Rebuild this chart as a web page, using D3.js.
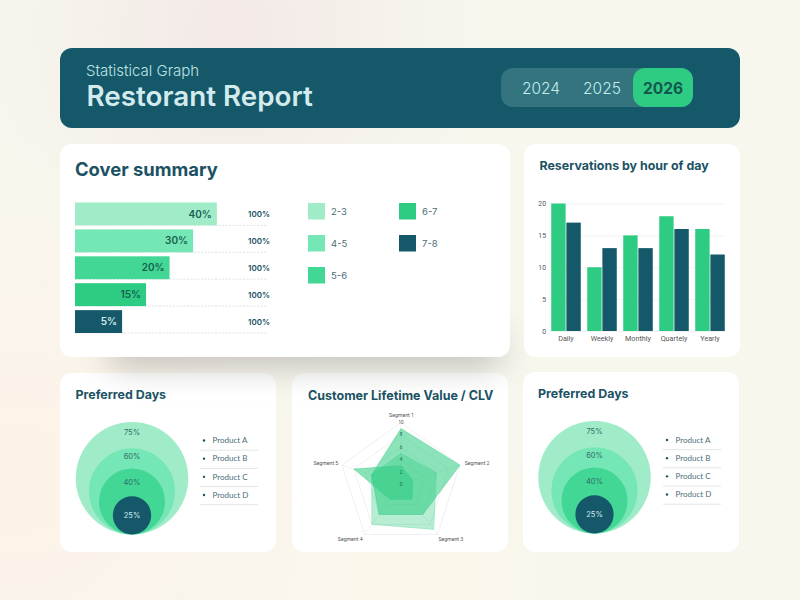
<!DOCTYPE html>
<html>
<head>
<meta charset="utf-8">
<script src="https://cdn.jsdelivr.net/npm/d3@7"></script>
<style>
html,body{margin:0;padding:0;width:800px;height:600px;overflow:hidden;background:#f8f7ef;}
svg{display:block;}
text{font-family:Inter,"Open Sans",sans-serif;}
</style>
</head>
<body>
<script>
var years = ["2024","2025","2026"];

var coverLabels = ["40%","30%","20%","15%","5%"];
var coverLengths = [73.5,61.2,49,36.8,24.4];
var coverTotal = "100%";
var legendNames = ["2-3","4-5","5-6","6-7","7-8"];

var hourCats = ["Daily","Weekly","Monthly","Quartely","Yearly"];
var hourA = [20,10,15,18,16];
var hourB = [17,13,13,16,12];
var hourTicks = [0,5,10,15,20];

var dayLabels = ["75%","60%","40%","25%"];
var daySizes = [75,57.5,44,25.5];
var products = ["Product A","Product B","Product C","Product D"];

var segments = ["Segment 1","Segment 2","Segment 3","Segment 4","Segment 5"];
var clvA = [5,6,9,8,5];
var clvB = [9,10,6,6,5];
var clvC = [3,2,3,3,8];
var clvTicks = [0,2,4,6,8,10];

var teal = "#14586a";
var green = "#2ecc82";
var shades = ["#a0ecc8","#75e6b5","#42d795","#2ecc82","#14586a"];

var svg = d3.select("body").append("svg").attr("width",800).attr("height",600);
var defs = svg.append("defs");

// background washes
function wash(id,cx,cy,r,col){
	var g = defs.append("radialGradient").attr("id",id)
		.attr("gradientUnits","userSpaceOnUse").attr("cx",cx).attr("cy",cy).attr("r",r);
	g.append("stop").attr("offset",0).attr("stop-color",col).attr("stop-opacity",1);
	g.append("stop").attr("offset",1).attr("stop-color",col).attr("stop-opacity",0);
	svg.append("rect").attr("width",800).attr("height",600).attr("fill","url(#"+id+")");
}
svg.append("rect").attr("width",800).attr("height",600).attr("fill","#f7f7ee");
wash("w1",230,30,260,"#f3e9e7");
wash("w2",20,480,360,"#fdf2e8");
wash("w3",420,590,240,"#fbf6ea");

defs.append("filter").attr("id","blur").attr("x","-25%").attr("y","-300%").attr("width","150%").attr("height","700%")
	.append("feGaussianBlur").attr("stdDeviation",17);

function txt(parent,s,x,y,size,weight,fill,anchor,family){
	var t = parent.append("text").text(s)
		.attr("x",x).attr("y",y)
		.attr("font-size",size).attr("font-weight",weight)
		.attr("fill",fill).attr("text-anchor",anchor||"start");
	if(family){ t.style("font-family",family); }
	return t;
}
function card(x,y,w,h){
	svg.append("rect").attr("x",x).attr("y",y).attr("width",w).attr("height",h)
		.attr("rx",12).attr("fill","#fff");
}

// header
svg.append("rect").attr("x",60).attr("y",48).attr("width",680).attr("height",80).attr("rx",12).attr("fill",teal);
txt(svg,"Statistical Graph",86,76,15,300,"#bfe3e4");
txt(svg,"Restorant Report",86.5,106,27.8,600,"#d3ebec");

svg.append("rect").attr("x",501).attr("y",68).attr("width",192).attr("height",39).attr("rx",12).attr("fill","#33747f");
svg.append("rect").attr("x",633).attr("y",68).attr("width",60).attr("height",39).attr("rx",12).attr("fill",green);
var yearX = d3.scalePoint().domain(years).range([541,663]);
svg.selectAll(".year").data(years).enter().append("text")
	.attr("class","year")
	.text(function(d){ return d; })
	.attr("x",function(d){ return yearX(d); })
	.attr("y",94)
	.attr("text-anchor","middle")
	.attr("font-size",15.5)
	.attr("font-weight",function(d,i){ return i==2 ? 700 : 300; })
	.attr("fill",function(d,i){ return i==2 ? "#11584f" : "#c4ecec"; });

// bottom row cards go under the soft shadow of the cover card
card(60,373,216,179);
card(292,373,216,179);
card(523,372,216,180);
svg.append("rect").attr("x",110).attr("y",336).attr("width",390).attr("height",28)
	.attr("fill","#8a8a86").attr("opacity",.62).attr("filter","url(#blur)");
card(60,144,450,213);
card(524,144,216,213);

// cover summary
txt(svg,"Cover summary",75,176,18.4,700,"#1b5264");
var coverX = d3.scaleLinear().domain([0,100]).range([0,193]);
var coverY = d3.scaleBand().domain(coverLabels).range([202.5,333]).paddingInner(.15);
var rows = svg.selectAll(".cover").data(coverLabels).enter().append("g").attr("class","cover");
rows.append("line")
	.attr("x1",75).attr("x2",268)
	.attr("y1",function(d){ return coverY(d)+coverY.bandwidth(); })
	.attr("y2",function(d){ return coverY(d)+coverY.bandwidth(); })
	.attr("stroke","#d5dcdc").attr("stroke-dasharray","2 1.5").attr("stroke-width",.8);
rows.append("rect")
	.attr("x",coverX(0)+75)
	.attr("y",function(d){ return coverY(d); })
	.attr("width",function(d,i){ return coverX(coverLengths[i]); })
	.attr("height",coverY.bandwidth())
	.attr("fill",function(d,i){ return shades[i]; });
rows.append("text")
	.text(function(d){ return d; })
	.attr("x",function(d,i){ return 75+coverX(coverLengths[i])-5; })
	.attr("y",function(d){ return coverY(d)+coverY.bandwidth()/2+3.6; })
	.attr("text-anchor","end").attr("font-size",10).attr("font-weight",600)
	.attr("fill",function(d,i){ return i==4 ? "#d3ebec" : "#14604f"; });
rows.append("text")
	.text(coverTotal)
	.attr("x",270)
	.attr("y",function(d){ return coverY(d)+coverY.bandwidth()/2+3.5; })
	.attr("text-anchor","end").attr("font-size",8).attr("font-weight",600).attr("fill","#1b5264");

var legend = svg.selectAll(".legend").data(legendNames).enter().append("g").attr("class","legend")
	.attr("transform",function(d,i){ return "translate("+(i<3 ? 308 : 399)+","+(203+(i<3 ? i : i-3)*32)+")"; });
legend.append("rect").attr("width",17).attr("height",16.5)
	.attr("fill",function(d,i){ return shades[i]; });
legend.append("text").text(function(d){ return d; })
	.attr("x",23).attr("y",12).attr("font-size",9.5).attr("fill","#4b6d78");

// reservations
txt(svg,"Reservations by hour of day",539.5,170,12.4,700,"#1b5264");
var hx = d3.scaleBand().domain(hourCats).range([548,728]).paddingInner(.18).paddingOuter(.09);
var hInner = d3.scaleBand().domain([0,1]).range([0,hx.bandwidth()]).paddingInner(.05);
var hy = d3.scaleLinear().domain([0,20]).range([331,203.5]);

var yAxis = svg.append("g").attr("transform","translate(550,0)")
	.call(d3.axisLeft(hy).tickValues(hourTicks).tickSize(-175).tickPadding(4));
yAxis.select(".domain").remove();
yAxis.selectAll("line").attr("stroke","#f1f3f1");
yAxis.selectAll("text").attr("font-size",6.8).attr("fill","#555").style("font-family","Roboto");

svg.selectAll(".ga").data(hourA).enter().append("rect").attr("class","ga")
	.attr("x",function(d,i){ return hx(hourCats[i])+hInner(0); })
	.attr("y",function(d){ return hy(d); })
	.attr("width",hInner.bandwidth())
	.attr("height",function(d){ return hy(0)-hy(d); })
	.attr("fill",green);
svg.selectAll(".gb").data(hourB).enter().append("rect").attr("class","gb")
	.attr("x",function(d,i){ return hx(hourCats[i])+hInner(1); })
	.attr("y",function(d){ return hy(d); })
	.attr("width",hInner.bandwidth())
	.attr("height",function(d){ return hy(0)-hy(d); })
	.attr("fill",teal);

var xAxis = svg.append("g").attr("transform","translate(0,331)")
	.call(d3.axisBottom(hx).tickSize(0).tickPadding(5));
xAxis.select(".domain").remove();
xAxis.selectAll("text").attr("font-size",7.2).attr("fill","#555").style("font-family","Roboto");

// preferred days, drawn twice
function drawDays(key,title,titleX,titleY,cx,bottom,listX,listY){
	txt(svg,title,titleX,titleY,12.4,700,"#1b5264");
	var r = d3.scaleLinear().domain([0,100]).range([0,75]);
	var labelDy = [13,10.5,16.5,21.5];
	var g = svg.append("g");
	g.selectAll("circle").data(daySizes).enter().append("circle")
		.attr("cx",cx)
		.attr("cy",function(d){ return bottom-r(d); })
		.attr("r",function(d){ return r(d); })
		.attr("fill",function(d,i){ return [shades[0],shades[1],shades[2],shades[4]][i]; });
	g.selectAll("text").data(dayLabels).enter().append("text")
		.text(function(d){ return d; })
		.attr("x",cx)
		.attr("y",function(d,i){ return bottom-2*r(daySizes[i])+labelDy[i]; })
		.attr("text-anchor","middle").attr("font-size",7.5)
		.attr("fill",function(d,i){ return i==3 ? "#d3ebec" : "#2f6f6c"; });
	var yy = d3.scalePoint().domain(products).range([listY,listY+54.5]);
	var items = svg.selectAll(".p"+key).data(products).enter().append("g").attr("class","p"+key);
	items.append("circle").attr("cx",listX+4).attr("cy",function(d){ return yy(d); }).attr("r",1.2).attr("fill","#1b5264");
	items.append("text").text(function(d){ return d; })
		.attr("x",listX+12.5).attr("y",function(d){ return yy(d)+2.8; })
		.attr("font-size",8).attr("fill","#4b6d78")
		.style("font-family","Lato");
	items.append("line").attr("x1",listX).attr("x2",listX+58)
		.attr("y1",function(d){ return yy(d)+9.7; }).attr("y2",function(d){ return yy(d)+9.7; })
		.attr("stroke","#d8e0e2").attr("stroke-width",.8);
}
drawDays("a","Preferred Days",75.5,399,132,534.5,200,440.5);
drawDays("b","Preferred Days",538,398,594.5,533.5,663,440);

// radar
txt(svg,"Customer Lifetime Value / CLV",308,399.5,12.5,700,"#1b5264");
var rc = svg.append("g").attr("transform","translate(401,484.3)");
var rr = d3.scaleLinear().domain([0,10]).range([0,62]);
var step = 2*Math.PI/segments.length;
function ring(vals){
	return d3.lineRadial()
		.angle(function(d,i){ return i*step; })
		.radius(function(d){ return rr(d); })
		.curve(d3.curveLinearClosed)(vals);
}
rc.selectAll(".grid").data(clvTicks.slice(1)).enter().append("path").attr("class","grid")
	.attr("d",function(t){ return ring(segments.map(function(){ return t; })); })
	.attr("fill","none").attr("stroke","#e8eaea").attr("stroke-width",.7);
rc.selectAll(".spoke").data(segments).enter().append("line").attr("class","spoke")
	.attr("x2",function(d,i){ return rr(10)*Math.sin(i*step); })
	.attr("y2",function(d,i){ return -rr(10)*Math.cos(i*step); })
	.attr("stroke","#eceeee").attr("stroke-width",.7);
rc.selectAll(".area").data([clvA,clvB,clvC]).enter().append("path").attr("class","area")
	.attr("d",function(d){ return ring(d); })
	.attr("fill",function(d,i){ return i==0 ? "rgba(46,204,130,.35)" : "rgba(46,204,130,.55)"; })
	.attr("stroke",function(d,i){ return i==0 ? "rgba(46,204,130,.35)" : "rgba(46,204,130,.6)"; })
	.attr("stroke-width",.7);
rc.selectAll(".tick").data(clvTicks).enter().append("text").attr("class","tick")
	.text(function(d){ return d; })
	.attr("y",function(d){ return -rr(d)+1.7; })
	.attr("text-anchor","middle").attr("font-size",4.6)
	.attr("fill",function(d){ return d==10 ? "#555" : "#146a50"; })
	.style("font-family","Roboto");
var segAnchor = ["middle","start","start","end","end"];
rc.selectAll(".seg").data(segments).enter().append("text").attr("class","seg")
	.text(function(d){ return d; })
	.attr("x",function(d,i){ return (rr(10)+5)*Math.sin(i*step)+[0.5,0,-2,1,1][i]; })
	.attr("y",function(d,i){ return -(rr(10)+5)*Math.cos(i*step)+[0,1.5,2,2,1.5][i]; })
	.attr("text-anchor",function(d,i){ return segAnchor[i]; })
	.attr("font-size",5.2).attr("fill","#555")
	.style("font-family","Roboto");
</script>
</body>
</html>
